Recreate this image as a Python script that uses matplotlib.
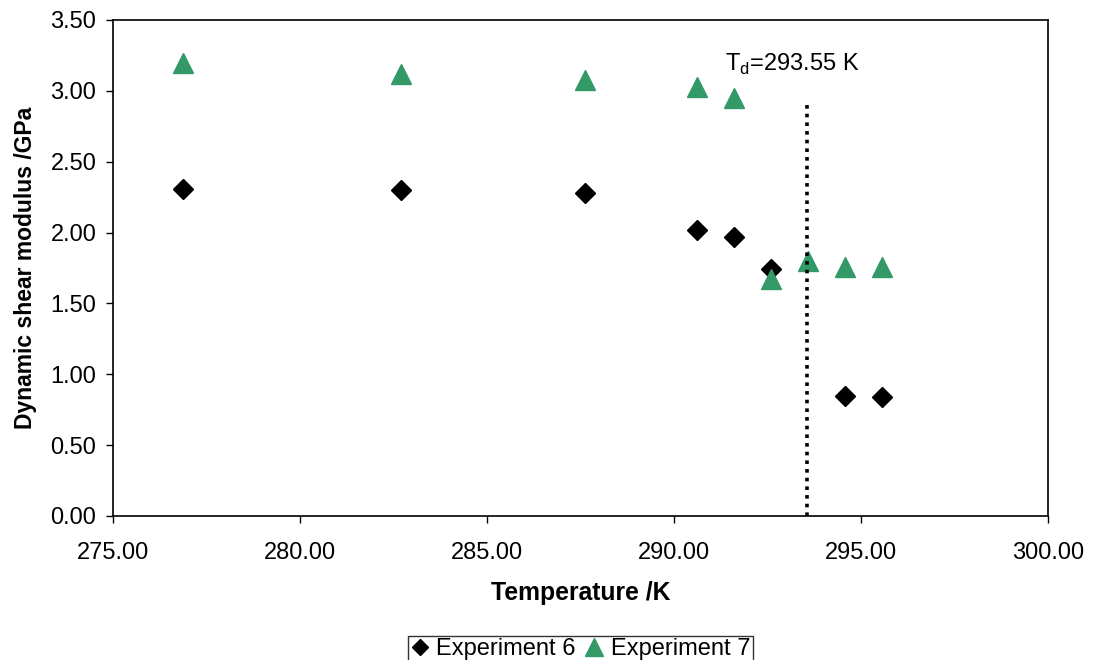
import matplotlib

matplotlib.use("Agg")
import matplotlib.pyplot as plt
from matplotlib.ticker import FormatStrFormatter, MultipleLocator

plt.rcParams["font.family"] = ["Liberation Sans", "DejaVu Sans"]
plt.rcParams["mathtext.fontset"] = "custom"
plt.rcParams["mathtext.rm"] = "Liberation Sans"

# -- Data ---------------------------------------------------------------------

temp_exp6 = [276.87, 282.70, 287.62, 290.61, 291.60, 292.59, 294.57, 295.56]
modulus_exp6 = [2.31, 2.30, 2.28, 2.02, 1.97, 1.74, 0.85, 0.84]

temp_exp7 = [276.87, 282.70, 287.62, 290.61, 291.60, 292.59, 293.58, 294.57, 295.56]
modulus_exp7 = [3.20, 3.12, 3.08, 3.03, 2.95, 1.67, 1.80, 1.76, 1.76]

T_D = 293.55
T_D_LINE_TOP = 2.93

GREEN = "#339966"
FS = 17

fig = plt.figure(figsize=(10.99, 6.6), dpi=100)
ax = fig.add_axes([0.1028, 0.2182, 0.8508, 0.7515])

ax.plot(temp_exp6, modulus_exp6, linestyle="none", marker="D", markersize=10,
        color="black", label="Experiment 6")
ax.plot(temp_exp7, modulus_exp7, linestyle="none", marker="^", markersize=14.5,
        color=GREEN, label="Experiment 7")

ax.plot([T_D, T_D], [0, T_D_LINE_TOP], color="black", linewidth=2.6,
        linestyle=(0, (1, 1.4)), dash_capstyle="butt")
ax.text(291.36, 3.14, r"T$_\mathregular{d}$=293.55 K", ha="left",
        va="baseline", fontsize=FS)

ax.set_xlim(275, 300)
ax.set_ylim(0, 3.5)
ax.xaxis.set_major_locator(MultipleLocator(5))
ax.yaxis.set_major_locator(MultipleLocator(0.5))
ax.xaxis.set_major_formatter(FormatStrFormatter("%.2f"))
ax.yaxis.set_major_formatter(FormatStrFormatter("%.2f"))
ax.tick_params(direction="out", length=5, width=1, labelsize=FS)
ax.tick_params(axis="x", pad=14)
ax.tick_params(axis="y", pad=7)

for side in ["left", "bottom", "top", "right"]:
    ax.spines[side].set_linewidth(1.2)

ax.set_xlabel("Temperature /K", fontsize=17.8, fontweight="bold", labelpad=12)
ax.set_ylabel("Dynamic shear modulus /GPa", fontsize=16.5, fontweight="bold",
              labelpad=10)

leg = fig.legend(loc="upper center", ncol=2,
                 fontsize=FS, frameon=True, fancybox=False, edgecolor="black",
                 handlelength=0.8, handletextpad=0.3, columnspacing=0.4,
                 borderpad=0.1, markerscale=0.85)
leg.set_bbox_to_anchor((0.528, 1 - 624 / 660), transform=fig.transFigure)
leg.get_frame().set_linewidth(1.0)

plt.savefig("out.png", dpi=100)
plt.close()
